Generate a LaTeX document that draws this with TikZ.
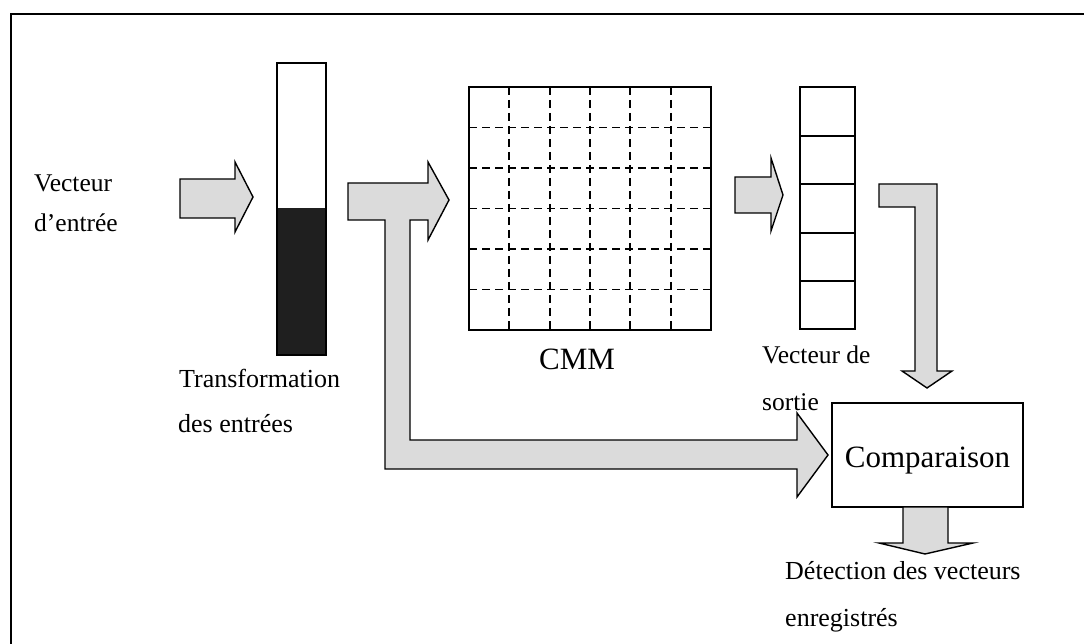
\documentclass[tikz,border=0pt]{standalone}
\usepackage{fontspec}
\setmainfont{Liberation Serif}
\usetikzlibrary{calc}
\begin{document}
\begin{tikzpicture}[x=1pt,y=-1pt,
  outline/.style={draw=black,line width=1.4pt},
  blockarrow/.style={outline,fill=gray!28,line join=miter},
  cell/.style={outline,fill=white,inner sep=0pt,outer sep=0pt,anchor=north west},
  gridline/.style={line width=1.9pt,dash pattern=on 8pt off 5pt},
  lbl/.style={inner sep=0pt,font=\fontsize{25.5}{30}\selectfont},
  biglbl/.style={inner sep=0pt,font=\fontsize{31}{36}\selectfont}]
\useasboundingbox (0,0) rectangle (1084,644);

% page frame (only the top and left edges fall inside the figure)
\draw[line width=1.4pt] (11,650) -- (11,14) -- (1090,14);

% input vector label
\node[lbl,anchor=base west] (invec1) at (34,192) {Vecteur};
\node[lbl,anchor=base west] (invec2) at (34,232) {d’entrée};

% arrow into the transformation stage
\draw[blockarrow] (180,179) -- (235,179) -- (235,162) -- (253,197)
  -- (235,232) -- (235,218) -- (180,218) -- cycle;

% transformed input column
\node[cell,minimum width=49pt,minimum height=292pt] (bar) at (277,63) {};
\fill[black!88] (277,208) rectangle (326,355);
\draw[outline] (bar.north west) rectangle (bar.south east);
\node[lbl,anchor=base west,font=\fontsize{26}{30}\selectfont] (trans1) at (179,387) {Transformation};
\node[lbl,anchor=base west,font=\fontsize{26}{30}\selectfont] (trans2) at (178,432) {des entrées};

% split arrow: to the memory and to the comparison
\draw[blockarrow] (348,183) -- (428,183) -- (428,162) -- (449,200)
  -- (428,240) -- (428,220) -- (410,220) -- (410,440) -- (797,440)
  -- (797,413) -- (828,455) -- (797,497) -- (797,469) -- (385,469)
  -- (385,220) -- (348,220) -- cycle;

% correlation matrix memory
\node[cell,minimum width=242pt,minimum height=243pt] (cmm) at (469,87) {};
\foreach \i in {1,...,5}{
  \draw[gridline] ($(cmm.north west)+(\i*40.33,0)$) -- ($(cmm.south west)+(\i*40.33,0)$);
  \draw[gridline] ($(cmm.north west)+(0,\i*40.5)$) -- ($(cmm.north east)+(0,\i*40.5)$);
}
\draw[outline] (cmm.north west) rectangle (cmm.south east);
\node[biglbl,anchor=base] (cmmlbl) at (577,369) {CMM};

% arrow from the memory to the output vector
\draw[blockarrow] (735,177) -- (771,177) -- (771,158) -- (783,195)
  -- (771,231) -- (771,213) -- (735,213) -- cycle;

% output vector
\node[cell,minimum width=55pt,minimum height=242pt] (outvec) at (800,87) {};
\foreach \y in {136,184,233,281}
  \draw[outline] (outvec.west |- 0,\y) -- (outvec.east |- 0,\y);
\node[lbl,anchor=base west] (out1) at (762,363) {Vecteur de};
\node[lbl,anchor=base west] (out2) at (762,410) {sortie};

% bent arrow from the output vector down to the comparison
\draw[blockarrow] (879,184) -- (937,184) -- (937,371) -- (952,371)
  -- (927,388) -- (902,371) -- (915,371) -- (915,207) -- (879,207) -- cycle;

% comparison block
\node[cell,minimum width=191pt,minimum height=104pt] (comp) at (832,403) {};
\node[biglbl,anchor=base] (complbl) at (927.5,467) {Comparaison};

% result arrow
\draw[blockarrow] (903,507) -- (948,507) -- (948,543) -- (973,543)
  -- (925,554) -- (879,543) -- (903,543) -- cycle;
\node[lbl,anchor=base west,font=\fontsize{26}{30}\selectfont] (det1) at (785,579) {Détection des vecteurs};
\node[lbl,anchor=base west,font=\fontsize{26}{30}\selectfont] (det2) at (785,626) {enregistrés};
\end{tikzpicture}
\end{document}
